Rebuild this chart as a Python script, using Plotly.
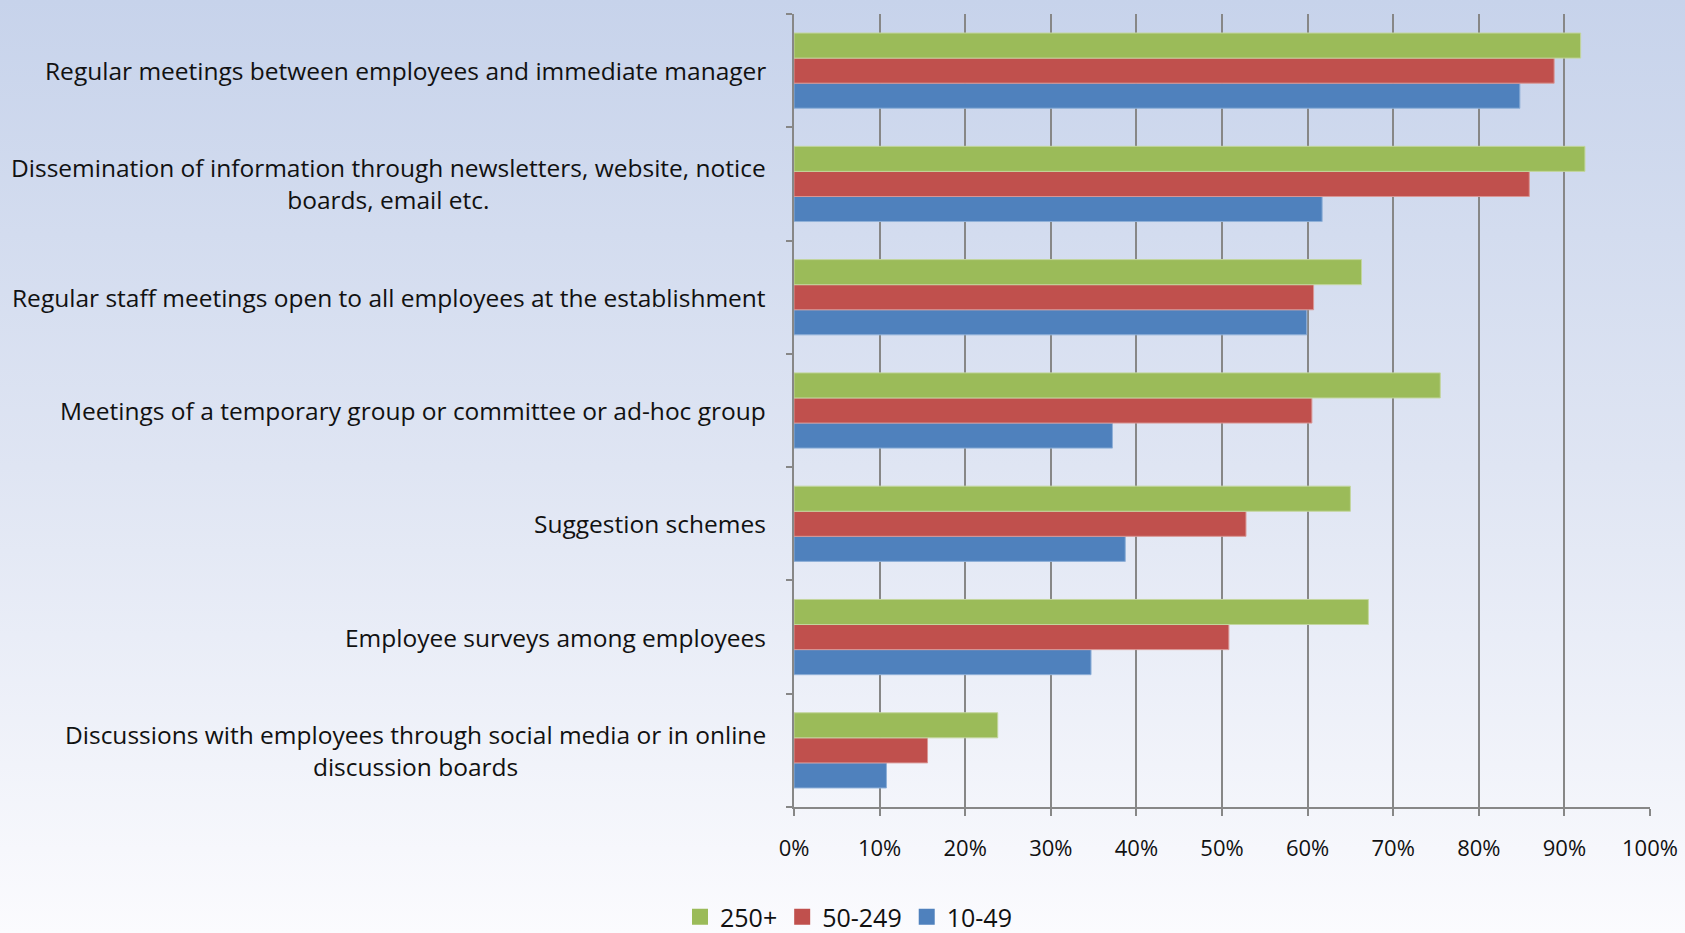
import base64
import plotly.graph_objects as go

# Communication practices, share of establishments by size class (%)
categories = [
    "Regular meetings between employees and immediate manager",
    "Dissemination of information through newsletters, website, notice boards, email etc.",
    "Regular staff meetings open to all employees at the establishment",
    "Meetings of a temporary group or committee or ad-hoc group",
    "Suggestion schemes",
    "Employee surveys among employees",
    "Discussions with employees through social media or in online discussion boards",
]
labels = [
    "Regular meetings between employees and immediate manager",
    "Dissemination of information through newsletters, website, notice<br>boards, email etc.",
    "Regular staff meetings open to all employees at the establishment",
    "Meetings of a temporary group or committee or ad-hoc group",
    "Suggestion schemes",
    "Employee surveys among employees",
    "Discussions with employees through social media or in online<br>discussion boards",
]
size_250_plus = [91.9, 92.4, 66.3, 75.5, 65.0, 67.1, 23.8]
size_50_249 = [88.8, 85.9, 60.7, 60.5, 52.8, 50.8, 15.6]
size_10_49 = [84.8, 61.7, 59.9, 37.2, 38.7, 34.7, 10.8]
x_ticks = [0, 10, 20, 30, 40, 50, 60, 70, 80, 90, 100]
x_tick_text = [f"{v}%" for v in x_ticks]

W, H = 1685, 933
ML, MR, MT, MB = 794, 35, 14, 126
PW, PH = W - ML - MR, H - MT - MB
FONT = "'Open Sans', Lato, sans-serif"
TEXT = "#111111"

fig = go.Figure()
# first trace sits lowest within each group
series = [
    ("10-49", size_10_49, "#4F81BD", "#8fb0d8"),
    ("50-249", size_50_249, "#C0504D", "#d99795"),
    ("250+", size_250_plus, "#9BBB59", "#c3d69e"),
]
for name, vals, col, edge in series:
    fig.add_trace(go.Bar(
        y=categories, x=vals, name=name, orientation="h", showlegend=False,
        marker=dict(color=col, line=dict(color=edge, width=1)),
    ))
# square legend keys
for name, vals, col, edge in series:
    fig.add_trace(go.Scatter(
        x=[None], y=[None], name=name, mode="markers",
        marker=dict(symbol="square", size=20, color=col, line=dict(width=0)),
    ))

# category labels, centred multi-line blocks right-aligned to the axis
for cat, lab in zip(categories, labels):
    fig.add_annotation(
        x=0, xref="paper", y=cat, yref="y", text=lab, showarrow=False,
        xanchor="right", yanchor="middle", align="center", xshift=-26,
        font=dict(family=FONT, size=24.5, color=TEXT),
    )

# soft vertical blue-to-white backdrop
svg = (
    '<svg xmlns="http://www.w3.org/2000/svg" width="100" height="100" preserveAspectRatio="none">'
    '<defs><linearGradient id="g" x1="0" y1="0" x2="0" y2="1">'
    '<stop offset="0" stop-color="#c7d3eb"/>'
    '<stop offset="0.5" stop-color="#dfe5f3"/>'
    '<stop offset="1" stop-color="#fbfbfe"/>'
    '</linearGradient></defs>'
    '<rect width="100" height="100" fill="url(#g)"/></svg>'
)
src = "data:image/svg+xml;base64," + base64.b64encode(svg.encode()).decode()
fig.add_layout_image(
    source=src, xref="paper", yref="paper",
    x=-ML / PW, y=1 + MT / PH, sizex=W / PW, sizey=H / PH,
    xanchor="left", yanchor="top", sizing="stretch", layer="below",
)

fig.update_layout(
    width=W, height=H,
    margin=dict(l=ML, r=MR, t=MT, b=MB, pad=0, autoexpand=False),
    barmode="group", bargap=0.336, bargroupgap=0,
    paper_bgcolor="white", plot_bgcolor="rgba(0,0,0,0)",
    font=dict(family=FONT, size=22, color=TEXT),
    showlegend=True,
    legend=dict(
        orientation="h", traceorder="reversed",
        xref="container", yref="container", x=680 / W, y=1 - 917 / H,
        xanchor="left", yanchor="middle",
        font=dict(family=FONT, size=25, color=TEXT),
        bgcolor="rgba(0,0,0,0)", itemwidth=30,
    ),
    xaxis=dict(
        range=[0, 100], tickvals=x_ticks, ticktext=x_tick_text,
        showgrid=True, gridcolor="#878787", gridwidth=1.5,
        showline=True, linecolor="#878787", linewidth=1.5,
        ticks="outside", ticklen=7, tickcolor="#878787", tickwidth=1.5,
        ticklabelstandoff=14, automargin=False,
        tickfont=dict(family=FONT, size=22, color=TEXT),
        zeroline=False, fixedrange=True,
    ),
    yaxis=dict(
        type="category", categoryorder="array", categoryarray=categories[::-1],
        showticklabels=False, showgrid=False, automargin=False,
        showline=True, linecolor="#878787", linewidth=1.5,
        ticks="outside", tickson="boundaries", ticklen=6,
        tickcolor="#878787", tickwidth=1.5,
        fixedrange=True,
    ),
)

fig.write_html("out.html")
